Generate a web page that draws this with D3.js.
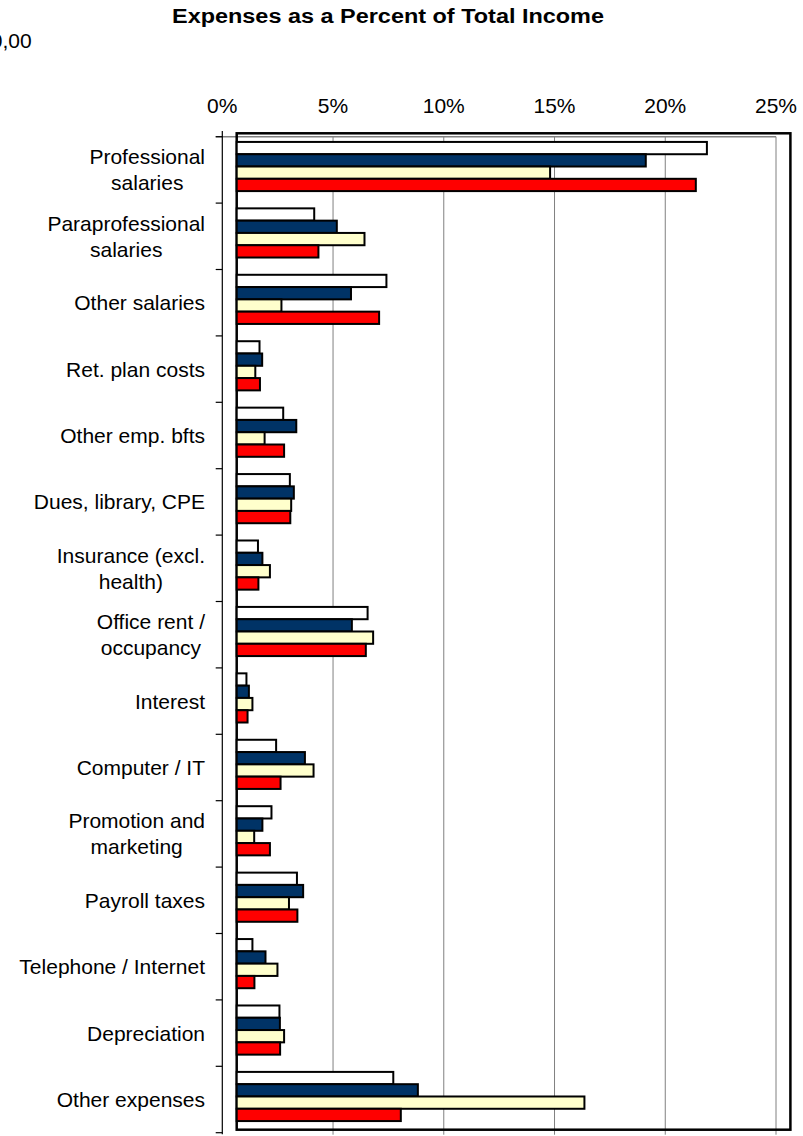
<!DOCTYPE html>
<html>
<head>
<meta charset="utf-8">
<script src="https://cdn.jsdelivr.net/npm/d3@7/dist/d3.min.js"></script>
<style>
  html, body { margin: 0; padding: 0; background: #fff; }
  svg { display: block; }
  text { font-family: "Liberation Sans", Arial, Helvetica, sans-serif; fill: #000; }
</style>
</head>
<body>
<script>
// ---------- DATA ----------
const categories = [
  "Professional salaries", "Paraprofessional salaries", "Other salaries", "Ret. plan costs",
  "Other emp. bfts", "Dues, library, CPE", "Insurance (excl. health)", "Office rent / occupancy",
  "Interest", "Computer / IT", "Promotion and marketing", "Payroll taxes",
  "Telephone / Internet", "Depreciation", "Other expenses"
];
const categoryLines = [
  ["Professional", "salaries"], ["Paraprofessional", "salaries"], ["Other salaries"], ["Ret. plan costs"],
  ["Other emp. bfts"], ["Dues, library, CPE"], ["Insurance (excl.", "health)"], ["Office rent /", "occupancy"],
  ["Interest"], ["Computer / IT"], ["Promotion and", "marketing"], ["Payroll taxes"],
  ["Telephone / Internet"], ["Depreciation"], ["Other expenses"]
];
const seriesNames = ["Series 1", "Series 2", "Series 3", "Series 4"];
const series1 = [21.23, 3.50, 6.76, 1.03, 2.10, 2.40, 0.96, 5.91, 0.44, 1.78, 1.57, 2.72, 0.71, 1.93, 7.07];
const series2 = [18.47, 4.52, 5.16, 1.15, 2.69, 2.58, 1.16, 5.20, 0.55, 3.08, 1.16, 3.00, 1.30, 1.95, 8.18];
const series3 = [14.15, 5.77, 2.02, 0.84, 1.26, 2.46, 1.50, 6.16, 0.71, 3.47, 0.79, 2.36, 1.84, 2.14, 15.70];
const series4 = [20.73, 3.69, 6.43, 1.05, 2.14, 2.42, 0.98, 5.83, 0.49, 1.98, 1.50, 2.74, 0.80, 1.96, 7.41];
const seriesColors = ["#FFFFFF", "#003366", "#FFFFCC", "#FF0000"];
const tickValues = [0, 5, 10, 15, 20, 25];
const titleText = "Expenses as a Percent of Total Income";
const cornerText = "0,00";

// ---------- LAYOUT ----------
const W = 803, H = 1136;
const svg = d3.select("body").append("svg").attr("width", W).attr("height", H);

// axis system
const x = d3.scaleLinear().domain([0, 25]).range([222.3, 776]);
const y = d3.scaleBand().domain(categories).range([136.7, 1132.7]);
// plot-frame system (offset in the source rendering)
const frame = { left: 236.7, top: 133.3, right: 790.4, bottom: 1129.7 };
const xb = d3.scaleLinear().domain([0, 25]).range([frame.left, frame.right]);
const yb = d3.scaleBand().domain(categories).range([frame.top, frame.bottom])
  .paddingInner(0.26).paddingOuter(0.13);
const ys = d3.scaleBand().domain(seriesNames).range([0, yb.bandwidth()]);

// title
svg.append("text").attr("x", 388).attr("y", 23).attr("text-anchor", "middle")
  .attr("font-weight", "bold").attr("font-size", 20)
  .attr("textLength", 432).attr("lengthAdjust", "spacingAndGlyphs").text(titleText);
svg.append("text").attr("x", -9.2).attr("y", 48).attr("font-size", 21).text(cornerText);

// gridlines
svg.append("g").selectAll("line").data(tickValues.filter(d => d > 0)).join("line")
  .attr("x1", d => x(d)).attr("x2", d => x(d))
  .attr("y1", y.range()[0]).attr("y2", y.range()[1] + 2)
  .attr("stroke", "#808080").attr("stroke-width", 1);
svg.append("line").attr("x1", 215.7).attr("x2", x(25))
  .attr("y1", y.range()[0]).attr("y2", y.range()[0])
  .attr("stroke", "#808080").attr("stroke-width", 1.5);

// top tick labels
svg.append("g").selectAll("text").data(tickValues).join("text")
  .attr("x", d => x(d)).attr("y", 113).attr("text-anchor", "middle")
  .attr("font-size", 21).text(d => d + "%");

// category axis line + ticks
svg.append("line").attr("x1", x(0)).attr("x2", x(0))
  .attr("y1", 131).attr("y2", y.range()[1] + 1.5)
  .attr("stroke", "#000").attr("stroke-width", 1.2);
const boundaries = categories.map(c => y(c)).concat([y.range()[1]]);
svg.append("g").selectAll("line").data(boundaries).join("line")
  .attr("x1", x(0) - 6.6).attr("x2", x(0)).attr("y1", d => d).attr("y2", d => d)
  .attr("stroke", "#000").attr("stroke-width", 1.2);

// category labels
const lg = svg.append("g");
categories.forEach((c, i) => {
  const lines = categoryLines[i];
  const lh = 26;
  const cy = y(c) + y.bandwidth() / 2;
  const t = lg.append("text").attr("font-size", 21).attr("text-anchor", "middle");
  const tspans = lines.map((ln, k) => t.append("tspan").text(ln));
  const widths = tspans.map(ts => ts.node().getComputedTextLength());
  const maxW = d3.max(widths);
  const cx = 205 - maxW / 2;
  const firstBase = cy + 7.5 - (lines.length - 1) * lh / 2;
  tspans.forEach((ts, k) => ts.attr("x", cx).attr("y", firstBase + k * lh));
});

// frame
svg.append("rect").attr("x", frame.left).attr("y", frame.top)
  .attr("width", frame.right - frame.left).attr("height", frame.bottom - frame.top)
  .attr("fill", "none").attr("stroke", "#000").attr("stroke-width", 2.5);

// bars
const allSeries = [series1, series2, series3, series4];
const gBars = svg.append("g");
categories.forEach((c, i) => {
  allSeries.forEach((s, k) => {
    gBars.append("rect")
      .attr("x", xb(0))
      .attr("y", yb(c) + ys(seriesNames[k]))
      .attr("width", xb(s[i]) - xb(0))
      .attr("height", ys.bandwidth())
      .attr("fill", seriesColors[k])
      .attr("stroke", "#000").attr("stroke-width", 2);
  });
});
</script>
</body>
</html>
